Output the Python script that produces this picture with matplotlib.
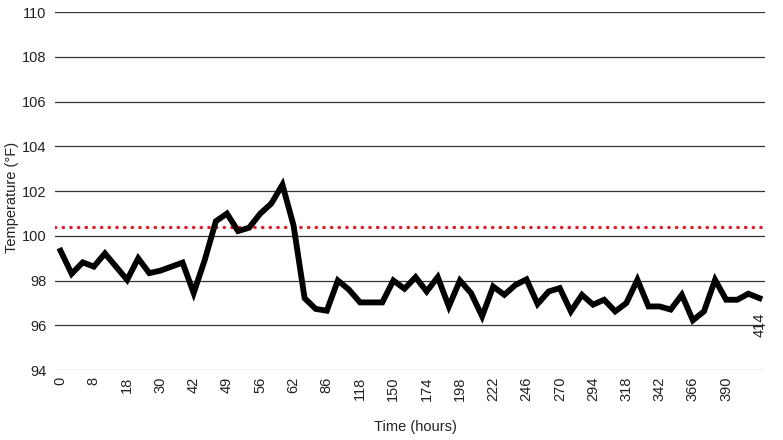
import matplotlib
matplotlib.use('Agg')
import matplotlib.pyplot as plt
import numpy as np

plt.rcParams['font.family'] = ['Liberation Sans', 'DejaVu Sans']

# Temperature readings (one per reading, categorical x axis)
temps = [99.33, 98.30, 98.81, 98.62, 99.21, 98.62, 98.03, 98.99, 98.33, 98.44,
         98.62, 98.80, 97.44, 98.92, 100.65, 100.99, 100.21, 100.36, 100.99, 101.44,
         102.28, 100.47, 97.21, 96.73, 96.65, 98.00, 97.59, 97.02, 97.02, 97.02,
         98.00, 97.63, 98.15, 97.51, 98.15, 96.84, 98.00, 97.44, 96.40, 97.73,
         97.36, 97.80, 98.05, 96.95, 97.51, 97.66, 96.62, 97.36, 96.92, 97.14,
         96.62, 96.99, 98.03, 96.84, 96.84, 96.70, 97.36, 96.22, 96.62, 98.03,
         97.14, 97.14, 97.41, 97.21]

# every third reading carries a label
tick_labels = ['0', '8', '18', '30', '42', '49', '56', '62', '86', '118', '150',
               '174', '198', '222', '246', '270', '294', '318', '342', '366', '390']
last_label = '414'

fever_threshold = 100.4
y_ticks = [94, 96, 98, 100, 102, 104, 106, 108, 110]

fig = plt.figure(figsize=(7.83, 4.40), dpi=100)
ax = fig.add_axes([55 / 783, 1 - 370 / 440, 710 / 783, 358 / 440])

x = np.arange(len(temps))

# horizontal grid lines
for yv in y_ticks:
    if yv == 94:
        ax.axhline(yv, color='#bdbdbd', linewidth=1.0, zorder=1)
    else:
        ax.axhline(yv, color='#333333', linewidth=0.9, zorder=1)

# fever threshold
ax.axhline(fever_threshold, color='#e01b2a', linewidth=2.4,
           linestyle=(0, (0.1, 2.2)), dash_capstyle='round', zorder=2)

ax.plot(x, temps, color='black', linewidth=4.2, solid_joinstyle='miter', zorder=3)

ax.set_xlim(-0.5, len(temps) - 0.5)
ax.set_ylim(94, 110)

ax.set_yticks(y_ticks)
ax.set_yticklabels([str(v) for v in y_ticks], fontsize=10.5, color='#222222')
ax.set_xticks(x[::3][:len(tick_labels)])
ax.set_xticklabels(tick_labels, rotation=90, fontsize=10.5, color='#222222')
ax.tick_params(axis='both', length=0)
ax.tick_params(axis='y', pad=6)
ax.tick_params(axis='x', pad=5)

ax.text(len(temps) - 1, 96.0, last_label, rotation=90, ha='center', va='center',
        fontsize=10.5, color='#222222', zorder=4)

for s in ax.spines.values():
    s.set_visible(False)

fig.text(12 / 783, 1 - 197 / 440, 'Temperature (°F)', rotation=90, ha='center',
         va='center', fontsize=10.5, color='#222222')
fig.text(415 / 783, 1 - 427 / 440, 'Time (hours)', ha='center', va='center',
         fontsize=10.5, color='#222222')

fig.savefig('out.png', dpi=100)
